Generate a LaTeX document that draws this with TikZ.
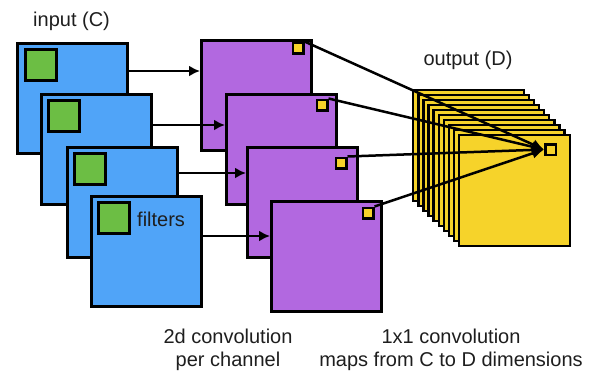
\documentclass[tikz,border=0pt]{standalone}
\usepackage{fontspec}
\setmainfont{Liberation Sans}
\usetikzlibrary{arrows.meta}
\definecolor{inblue}{RGB}{80,164,248}
\definecolor{fgreen}{RGB}{108,190,68}
\definecolor{cpurple}{RGB}{178,104,224}
\definecolor{oyellow}{RGB}{246,211,42}
\definecolor{txt}{RGB}{30,30,30}
\begin{document}
\begin{tikzpicture}[x=1pt,y=-1pt,
  bigsq/.style={draw=black, line width=3pt, minimum width=110pt, minimum height=110pt, inner sep=0pt, anchor=north west},
  bluesq/.style={bigsq, fill=inblue},
  purplesq/.style={bigsq, fill=cpurple},
  greensq/.style={draw=black, line width=3pt, fill=fgreen, minimum size=31pt, inner sep=0pt, anchor=north west},
  smallsq/.style={draw=black, line width=2.5pt, fill=oyellow, minimum size=10.5pt, inner sep=0pt},
  layer/.style={draw=black, line width=2.4pt, fill=oyellow, minimum size=110.5pt, inner sep=0pt, anchor=north west},
  harrow/.style={draw=black, line width=2.5pt, -{Latex[length=11pt,width=11pt]}},
  carrow/.style={draw=black, line width=2.5pt, -{Latex[length=12pt,width=11pt]}},
  lbl/.style={text=txt, font=\fontsize{20}{23}\selectfont, inner sep=0pt},
]
\useasboundingbox (0,0) rectangle (593,372);

% input channels
\node[bluesq] (b1) at (16,42) {};
\node[greensq] (g1) at ([shift={(8,6)}]b1.north west) {};
\node[bluesq] (b2) at (40,93) {};
\node[greensq] (g2) at ([shift={(7,6)}]b2.north west) {};
\node[bluesq] (b3) at (66,146) {};
\node[greensq] (g3) at ([shift={(7,6)}]b3.north west) {};
\node[bluesq] (b4) at (90,195) {};
\node[greensq] (g4) at ([shift={(7,6)}]b4.north west) {};

% per-channel convolution results
\node[purplesq] (p1) at (200,39) {};
\node[smallsq] (y1) at (298,48) {};
\node[purplesq] (p2) at (225,93) {};
\node[smallsq] (y2) at (322,105) {};
\node[purplesq] (p3) at (246,146) {};
\node[smallsq] (y3) at (341,163) {};
\node[purplesq] (p4) at (270,200) {};
\node[smallsq] (y4) at (368,213) {};

% arrows input -> per channel
\path ([yshift=27.5pt]b1.east) coordinate (a1);
\draw[harrow] (a1) -- (a1 -| p1.west);
\path ([yshift=24.5pt]b2.east) coordinate (a2);
\draw[harrow] (a2) -- (a2 -| p2.west);
\path ([yshift=29.5pt]b3.east) coordinate (a3);
\draw[harrow] (a3) -- (a3 -| p3.west);
\path ([yshift=15.5pt]b4.east) coordinate (a4);
\draw[harrow] (a4) -- (a4 -| p4.west);

% output stack
\foreach \k in {0,...,9}
  \node[layer] (o\k) at ({412+5.11*\k},{89+5.0*\k}) {};
\node[smallsq] (os) at (550.5,149.5) {};

% 1x1 convolution arrows
\draw[carrow] (y1.north east) -- (os.west);
\draw[carrow] (y2.north east) -- (os.west);
\draw[carrow] (y3.north east) -- (os.west);
\draw[carrow] (y4.north east) -- (os.west);

% labels
\node[lbl, anchor=base west] (tin) at (33,26) {input (C)};
\node[lbl, anchor=base west] (tfil) at (137,226) {filters};
\node[lbl, anchor=base] (tout) at (468,65) {output (D)};
\node[lbl, anchor=north, align=center] (tconv) at (228,329) {2d convolution\\per channel};
\node[lbl, anchor=north, align=center] (tone) at (451,329) {1x1 convolution\\maps from C to D dimensions};
\end{tikzpicture}
\end{document}
